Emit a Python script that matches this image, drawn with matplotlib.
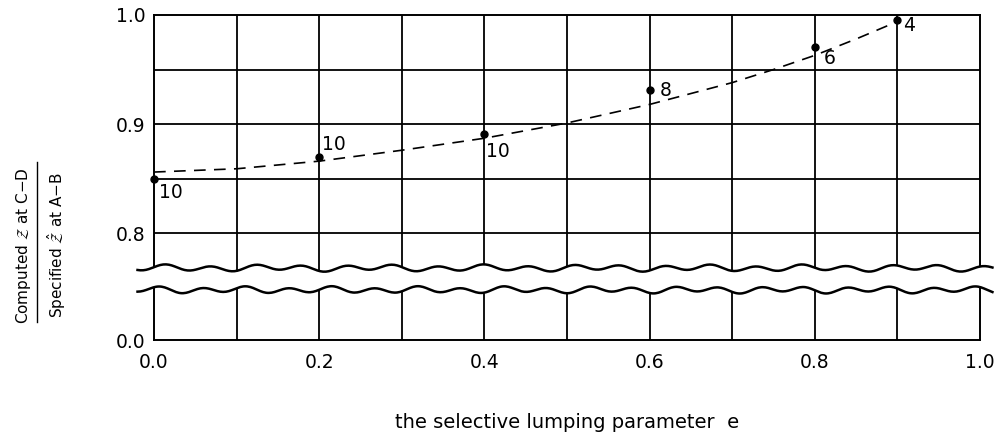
import numpy as np
import matplotlib
matplotlib.use("Agg")
import matplotlib.pyplot as plt

# measured points (lumping parameter e vs ratio) and their labels
e_pts = [0.0, 0.2, 0.4, 0.6, 0.8, 0.9]
ratio_pts = [0.850, 0.870, 0.891, 0.931, 0.971, 0.995]
pt_labels = ["10", "10", "10", "8", "6", "4"]
# label offsets in pixels (dx, dy)
label_offsets = [(17, -14), (15, 12), (13, -18), (16, 0), (15, -12), (12, -5)]

# dashed fitted curve
e_fit = [0.0, 0.1, 0.2, 0.3, 0.4, 0.5, 0.6, 0.7, 0.75, 0.8, 0.85, 0.9]
ratio_fit = [0.856, 0.859, 0.866, 0.876, 0.887, 0.901, 0.918, 0.938, 0.950, 0.963, 0.978, 0.994]

x_ticks = [0.0, 0.2, 0.4, 0.6, 0.8, 1.0]
x_ticklabels = ["0.0", "0.2", "0.4", "0.6", "0.8", "1.0"]
y_ticklabels = ["0.0", "0.8", "0.9", "1.0"]

# broken axis: the bottom of the axes stands for 0.0
Y_BOTTOM = 0.702
Y_BREAK_HI = 0.768
Y_BREAK_LO = 0.748

fig = plt.figure(figsize=(9.97, 4.38), dpi=100)
ax = fig.add_axes([0.1545, 0.2237, 0.8285, 0.7421])

ax.set_xlim(0, 1.0)
ax.set_ylim(Y_BOTTOM, 1.0)

# grid
for gx in np.arange(0.1, 1.0, 0.1):
    ax.axvline(gx, color="black", lw=1.3, zorder=1)
for gy in [0.8, 0.85, 0.9, 0.95]:
    ax.axhline(gy, color="black", lw=1.3, zorder=1)
for s in ax.spines.values():
    s.set_linewidth(1.4)

ax.set_xticks(x_ticks)
ax.set_xticklabels(x_ticklabels)
ax.set_yticks([Y_BOTTOM, 0.8, 0.9, 1.0])
ax.set_yticklabels(y_ticklabels)
ax.tick_params(length=0, labelsize=13.5, pad=6)
ax.tick_params(axis="x", pad=9)

# break band with wavy edges
xw = np.linspace(-0.02, 1.015, 600)
amp = 0.0024
w_hi = Y_BREAK_HI + amp * (np.sin(2 * np.pi * xw / 0.055) + 0.4 * np.sin(2 * np.pi * xw / 0.13 + 1.0))
w_lo = Y_BREAK_LO + amp * (np.sin(2 * np.pi * xw / 0.052 + 0.7) + 0.4 * np.sin(2 * np.pi * xw / 0.11 + 2.0))
ax.fill_between(xw, w_lo, w_hi, color="white", zorder=3, clip_on=False, lw=0)
ax.plot(xw, w_hi, color="black", lw=1.8, zorder=4, clip_on=False)
ax.plot(xw, w_lo, color="black", lw=1.8, zorder=4, clip_on=False)

# data
ax.plot(e_fit, ratio_fit, color="black", lw=1.2, ls=(0, (7, 5)), zorder=5)
ax.plot(e_pts, ratio_pts, "o", color="black", ms=5, zorder=6, clip_on=False)
for x, y, lab, (dx, dy) in zip(e_pts, ratio_pts, pt_labels, label_offsets):
    ax.annotate(lab, (x, y), xytext=(dx, dy), textcoords="offset pixels",
                ha="center", va="center", fontsize=13.5, zorder=7)

ax.set_xlabel("the selective lumping parameter  e", fontsize=14, labelpad=30)

# y label as a fraction
fig.text(0.024, 0.44, r"Computed $\mathcal{Z}$ at C$-$D", rotation=90,
         ha="center", va="center", fontsize=11)
fig.text(0.057, 0.44, r"Specified $\hat{\mathcal{Z}}$ at A$-$B", rotation=90,
         ha="center", va="center", fontsize=11)
fig.add_artist(plt.Line2D([0.037, 0.037], [0.265, 0.63], color="black", lw=1.0,
                          transform=fig.transFigure))

fig.savefig("out.png", dpi=100)
